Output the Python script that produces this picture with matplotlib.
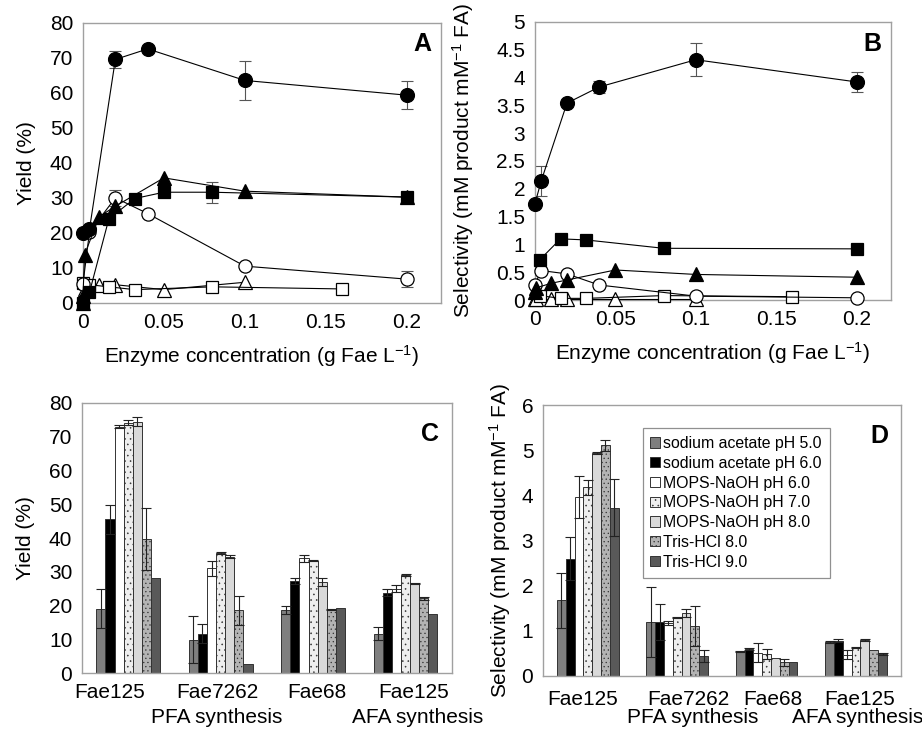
import matplotlib
matplotlib.use('Agg')
import matplotlib.pyplot as plt
import numpy as np

plt.rcParams['font.family'] = ['Liberation Sans', 'DejaVu Sans']
plt.rcParams['mathtext.fontset'] = 'custom'
plt.rcParams['mathtext.rm'] = 'Liberation Sans'
plt.rcParams['mathtext.it'] = 'Liberation Sans'
plt.rcParams['hatch.linewidth'] = 0.4
plt.rcParams['hatch.color'] = '#c4c4c4'

# ---- panels A/B: yield and selectivity vs enzyme concentration ----
x_fc = [0, 0.004, 0.02, 0.04, 0.1, 0.2]           # filled circles
yA_fc = [20, 21, 69.5, 72.5, 63.5, 59.3]
eA_fc = [0, 0, 2.5, 0, 5.5, 4.0]
yB_fc = [1.72, 2.14, 3.54, 3.83, 4.32, 3.92]
eB_fc = [0, 0.27, 0, 0.1, 0.3, 0.18]

x_oc = [0, 0.004, 0.02, 0.04, 0.1, 0.2]           # open circles
yA_oc = [5.5, 20.2, 30, 25.5, 10.5, 6.8]
eA_oc = [0, 0, 2.3, 0, 0, 2.2]
yB_oc = [0.27, 0.53, 0.47, 0.27, 0.07, 0.04]

xA_fs = [0, 0.004, 0.016, 0.032, 0.05, 0.08, 0.2]  # filled squares
yA_fs = [0, 3, 24, 29.8, 31.6, 31.6, 30.2]
eA_fs = [0, 0, 0, 0, 0, 3.0, 0]
xB_fs = [0.003, 0.016, 0.032, 0.08, 0.2]
yB_fs = [0.72, 1.1, 1.08, 0.93, 0.92]

x_ft = [0, 0.001, 0.01, 0.02, 0.05, 0.1, 0.2]      # filled triangles
yA_ft = [2, 13.8, 24.6, 27.6, 35.7, 31.9, 30.2]
yB_ft = [0.15, 0.22, 0.3, 0.36, 0.54, 0.46, 0.41]

xA_os = [0, 0.004, 0.016, 0.032, 0.08, 0.16]       # open squares
yA_os = [5.7, 5.2, 4.6, 3.8, 4.6, 4.0]
xB_os = [0.003, 0.016, 0.032, 0.08, 0.16]
yB_os = [0.08, 0.03, 0.03, 0.08, 0.06]

x_ot = [0, 0.001, 0.01, 0.02, 0.05, 0.1]           # open triangles
yA_ot = [0, 4, 5, 5.2, 3.8, 5.9]
yB_ot = [0.01, 0.01, 0.01, 0.01, 0.01, 0.01]

# ---- panels C/D: buffers ----
enzymes = ['Fae125', 'Fae7262', 'Fae68', 'Fae125']
reactions = ['PFA synthesis', 'AFA synthesis']
buffers = ['sodium acetate pH 5.0', 'sodium acetate pH 6.0', 'MOPS-NaOH pH 6.0',
           'MOPS-NaOH pH 7.0', 'MOPS-NaOH pH 8.0', 'Tris-HCl 8.0', 'Tris-HCl 9.0']
yield_C = [[19.1, 9.9, 18.6, 11.7],
           [45.6, 11.7, 27.2, 23.8],
           [73.0, 31.0, 34.0, 25.0],
           [74.2, 35.6, 33.3, 29.0],
           [74.5, 34.5, 27.0, 26.5],
           [39.7, 18.6, 18.8, 22.1],
           [28.2, 2.8, 19.4, 17.4]]
yield_C_err = [[5.8, 6.9, 1.2, 2.0],
               [4.3, 2.8, 0.9, 1.0],
               [0.5, 2.3, 1.1, 1.0],
               [0.7, 0.2, 0.2, 0.3],
               [1.3, 0.5, 1.2, 0.2],
               [9.2, 4.3, 0.2, 0.4],
               [0, 0, 0, 0]]
sel_D = [[1.68, 1.2, 0.55, 0.75],
         [2.6, 1.2, 0.59, 0.78],
         [3.97, 1.18, 0.52, 0.47],
         [4.18, 1.29, 0.49, 0.63],
         [4.94, 1.39, 0.39, 0.8],
         [5.11, 1.11, 0.3, 0.57],
         [3.73, 0.45, 0.32, 0.49]]
sel_D_err = [[0.61, 0.78, 0.01, 0.02],
             [0.47, 0.4, 0.02, 0.03],
             [0.46, 0.04, 0.22, 0.1],
             [0.16, 0.01, 0.11, 0.02],
             [0.03, 0.09, 0.0, 0.03],
             [0.12, 0.45, 0.08, 0.0],
             [0.63, 0.13, 0.0, 0.02]]
bar_colors = ['#7f7f7f', '#000000', '#ffffff', '#eeeeee', '#d9d9d9', '#b3b3b3', '#595959']
bar_hatch = [None, None, None, '...', None, '....', None]

fig = plt.figure(figsize=(9.22, 7.30), dpi=100)
axA = fig.add_axes([0.090, 0.585, 0.388, 0.384])
axB = fig.add_axes([0.580, 0.589, 0.386, 0.381])
axC = fig.add_axes([0.089, 0.078, 0.401, 0.370])
axD = fig.add_axes([0.589, 0.074, 0.388, 0.371])

FS = 15
spine_col = '#a0a0a0'


def style(ax):
    for s in ax.spines.values():
        s.set_color(spine_col)
        s.set_linewidth(1.0)
    ax.tick_params(length=0, labelsize=FS, pad=7)


def line(ax, x, y, marker, filled, err=None, ms=8.5):
    ax.plot(x, y, color='black', lw=0.8, marker=marker, ms=ms,
            mfc='black' if filled else 'white', mec='black', mew=0.9, zorder=3)
    if err is not None:
        xe = [a for a, e in zip(x, err) if e > 0]
        ye = [b for b, e in zip(y, err) if e > 0]
        ee = [e for e in err if e > 0]
        ax.errorbar(xe, ye, yerr=ee, fmt='none', ecolor='#555555', elinewidth=0.8,
                    capsize=4, capthick=0.8, zorder=2)


xlab = 'Enzyme concentration (g Fae L$^{-1}$)'
ylab_sel = 'Selectivity (mM product mM$^{-1}$ FA)'

# panel A
line(axA, x_ot, yA_ot, '^', False, ms=9.5)
line(axA, xA_os, yA_os, 's', False, ms=8.5)
line(axA, x_oc, yA_oc, 'o', False, eA_oc, ms=9.5)
line(axA, x_ft, yA_ft, '^', True, ms=9.5)
line(axA, xA_fs, yA_fs, 's', True, eA_fs, ms=8.5)
line(axA, x_fc, yA_fc, 'o', True, eA_fc, ms=10)
axA.set_xlim(0, 0.221)
axA.set_ylim(0, 80)
axA.set_xticks([0, 0.05, 0.1, 0.15, 0.2])
axA.set_xticklabels(['0', '0.05', '0.1', '0.15', '0.2'])
axA.set_yticks(range(0, 81, 10))
axA.set_ylabel('Yield (%)', fontsize=FS, labelpad=10)
axA.set_xlabel(xlab, fontsize=FS, labelpad=8)
axA.text(0.975, 0.965, 'A', transform=axA.transAxes, ha='right', va='top',
         fontsize=18, fontweight='bold')
style(axA)
for c in axA.get_children():
    if hasattr(c, 'set_clip_on'):
        c.set_clip_on(False)

# panel B
line(axB, x_ot, yB_ot, '^', False, ms=9.5)
line(axB, xB_os, yB_os, 's', False, ms=8.5)
line(axB, x_oc, yB_oc, 'o', False, ms=9.5)
line(axB, x_ft, yB_ft, '^', True, ms=9.5)
line(axB, xB_fs, yB_fs, 's', True, ms=8.5)
line(axB, x_fc, yB_fc, 'o', True, eB_fc, ms=10)
axB.set_xlim(0, 0.221)
axB.set_ylim(0, 5)
axB.set_xticks([0, 0.05, 0.1, 0.15, 0.2])
axB.set_xticklabels(['0', '0.05', '0.1', '0.15', '0.2'])
axB.set_yticks([0, 0.5, 1, 1.5, 2, 2.5, 3, 3.5, 4, 4.5, 5])
axB.set_yticklabels(['0', '0.5', '1', '1.5', '2', '2.5', '3', '3.5', '4', '4.5', '5'])
axB.set_ylabel(ylab_sel, fontsize=FS, labelpad=14)
axB.set_xlabel(xlab, fontsize=FS, labelpad=8)
axB.text(0.975, 0.965, 'B', transform=axB.transAxes, ha='right', va='top',
         fontsize=18, fontweight='bold')
style(axB)
for c in axB.get_children():
    if hasattr(c, 'set_clip_on'):
        c.set_clip_on(False)


def bars(ax, vals, errs, name_pos, sub_pos):
    xg = np.arange(len(enzymes))
    w = 0.69 / 7
    for j in range(7):
        xs = xg + (j - 3) * w
        ax.bar(xs, vals[j], width=w, color=bar_colors[j], edgecolor='#333333',
               linewidth=0.7, hatch=bar_hatch[j], label=buffers[j], zorder=2)
        e = np.array(errs[j])
        m = e > 0
        ax.errorbar(xs[m], np.array(vals[j])[m], yerr=e[m], fmt='none',
                    ecolor='#222222', elinewidth=0.8, capsize=3.5, capthick=0.8, zorder=3)
    ax.set_xlim(-0.5, len(enzymes) - 0.5)
    ax.set_xticks(name_pos)
    ax.set_xticklabels(enzymes, fontsize=FS)
    # second label row (reaction), baseline just above the figure bottom
    tr = ax.get_xaxis_transform()
    h = ax.get_position().height * fig.get_figheight() * fig.dpi
    bottom_px = ax.get_position().y0 * fig.get_figheight() * fig.dpi
    ybase = -(bottom_px - 7) / h
    for xp, txt in zip(sub_pos, reactions):
        ax.text(xp, ybase, txt, transform=tr, ha='center', va='baseline', fontsize=FS)


bars(axC, yield_C, yield_C_err, [-0.2, 0.96, 2.04, 3.09], [0.96, 3.13])
axC.set_ylim(0, 80)
axC.set_yticks(range(0, 81, 10))
axC.set_ylabel('Yield (%)', fontsize=FS, labelpad=10)
axC.text(0.965, 0.93, 'C', transform=axC.transAxes, ha='right', va='top',
         fontsize=18, fontweight='bold')
style(axC)

bars(axD, sel_D, sel_D_err, [-0.06, 1.13, 2.07, 3.04], [1.17, 3.02])
axD.set_ylim(0, 6)
axD.set_yticks(range(0, 7))
axD.tick_params(axis='x', pad=10)
axD.set_ylabel(ylab_sel, fontsize=FS, labelpad=6)
axD.text(0.965, 0.93, 'D', transform=axD.transAxes, ha='right', va='top',
         fontsize=18, fontweight='bold')
style(axD)
axD.tick_params(axis='x', pad=10)
leg = axD.legend(loc='upper left', bbox_to_anchor=(0.278, 0.915), borderaxespad=0,
                 fontsize=11.4, handlelength=0.6, handleheight=0.6, handletextpad=0.2,
                 labelspacing=0.3, borderpad=0.5, fancybox=False, framealpha=1)
leg.get_frame().set_edgecolor('#909090')
leg.get_frame().set_linewidth(0.9)

fig.savefig('out.png', dpi=100)
